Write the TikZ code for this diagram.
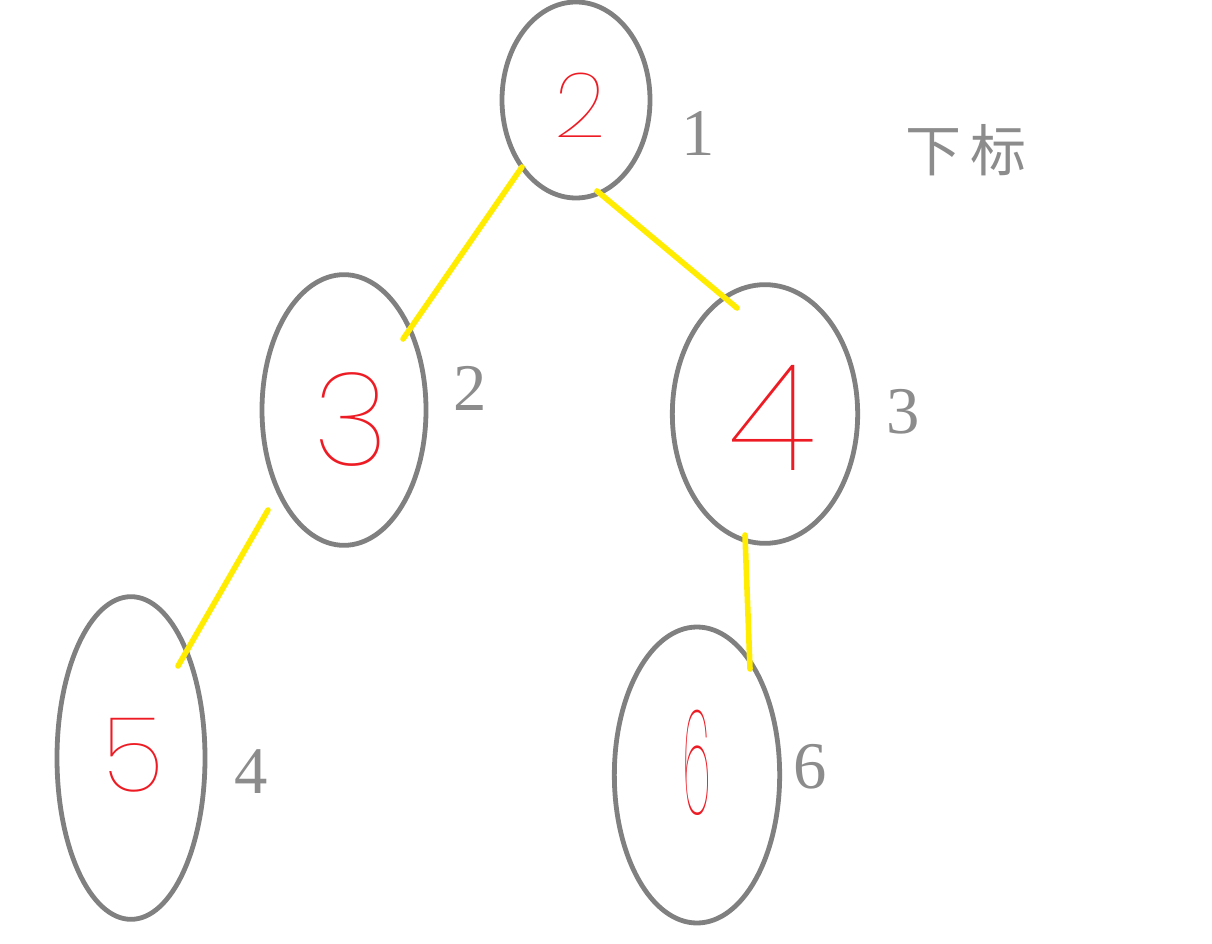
\documentclass[tikz,border=0pt]{standalone}
\usepackage{fontspec}
\usepackage{graphicx}
\setmainfont{Liberation Serif}
\newfontfamily\cjkfont{Noto Sans CJK SC}
\newfontfamily\handfont{Poppins Thin}
\usetikzlibrary{shapes.geometric}
\definecolor{ringgray}{RGB}{128,128,128}
\definecolor{idxgray}{RGB}{140,140,140}
\definecolor{linkyellow}{RGB}{255,236,0}
\definecolor{handred}{RGB}{237,28,36}
\tikzset{
  ring/.style={ellipse, draw=ringgray, line width=3.6pt, inner sep=0pt, outer sep=0pt},
  link/.style={draw=linkyellow, line width=4.2pt, line cap=round},
  idx/.style={text=idxgray, inner sep=0pt, font=\fontsize{50}{50}\selectfont},
  val/.style={text=handred, inner sep=0pt},
}
\begin{document}
\begin{tikzpicture}[x=0.75pt, y=-0.75pt]
\useasboundingbox (0,0) rectangle (1212,944);
% ellipses
\node[ring, minimum width=111pt, minimum height=147pt] (n1) at (576,100) {};
\node[ring, minimum width=123pt, minimum height=203pt] (n2) at (344,410) {};
\node[ring, minimum width=139pt, minimum height=194pt] (n3) at (765,414) {};
\node[ring, minimum width=111pt, minimum height=242pt] (n4) at (131,758) {};
\node[ring, minimum width=124pt, minimum height=222pt] (n5) at (697,775) {};
% handwritten values
\node[val, font=\handfont\fontsize{68}{68}\selectfont] (v1) at (580,105) {2};
\node[val, font=\handfont\fontsize{98}{98}\selectfont] (v2) at (351,420) {3};
\node[val, font=\handfont\fontsize{112}{112}\selectfont] (v3) at (772,418) {4};
\node[val, font=\handfont\fontsize{78}{78}\selectfont] (v4) at (133,755) {5};
\node[val, font=\handfont\fontsize{110}{110}\selectfont] (v5) at (697,763) {\scalebox{0.32}[1]{6}};
% index labels
\node[idx] (i1) at (698,133) {1};
\node[idx] (i2) at (470,388) {2};
\node[idx] (i3) at (903,412) {3};
\node[idx] (i4) at (251,772) {4};
\node[idx] (i5) at (810,767) {6};
\node[text=idxgray, inner sep=0pt, font=\cjkfont\fontsize{42}{42}\selectfont] (title) at (966,150) {下\,标};
% connector end points
\coordinate (a1) at (522,167);
\coordinate (b1) at (403,339);
\coordinate (a2) at (597,191);
\coordinate (b2) at (737,308);
\coordinate (a3) at (268,510);
\coordinate (b3) at (178,666);
\coordinate (a4) at (745,535);
\coordinate (b4) at (750,669);
\draw[link] (a1) -- (b1);
\draw[link] (a2) -- (b2);
\draw[link] (a3) -- (b3);
\draw[link] (a4) -- (b4);
\end{tikzpicture}
\end{document}
